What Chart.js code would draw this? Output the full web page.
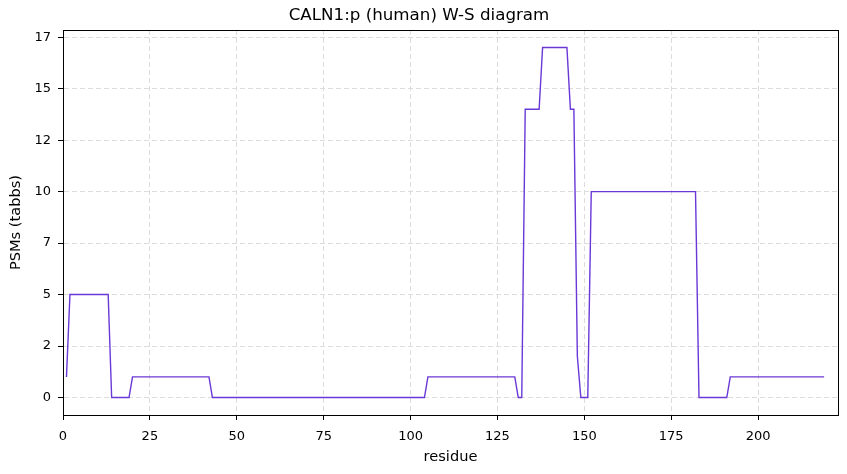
<!DOCTYPE html>
<html>
<head>
<meta charset="utf-8">
<script src="https://cdn.jsdelivr.net/npm/chart.js@4.4.3/dist/chart.umd.min.js"></script>
<style>
    html, body { margin: 0; padding: 0; background: #ffffff; }
    #wrap { width: 847px; height: 474px; }
</style>
</head>
<body>
<div id="wrap"><canvas id="chart" width="847" height="474"></canvas></div>
<script>
// residue positions and PSM counts
const residues = [];
for (let r = 1; r <= 219; r++) residues.push(r);

// runs of equal value: [firstResidue, lastResidue, psms]
const runStarts = [1, 2, 14, 20, 43, 105, 131, 133, 138, 146, 148, 149, 152, 183, 192];
const runEnds   = [1, 13, 19, 42, 104, 130, 132, 137, 145, 147, 148, 151, 182, 191, 219];
const runValues = [1, 5, 0, 1, 0, 1, 0, 14, 17, 14, 2, 0, 10, 0, 1];

const xTicks = [0, 25, 50, 75, 100, 125, 150, 175, 200];
const yTicks = [0, 2.5, 5, 7.5, 10, 12.5, 15, 17.5];
const yTickLabels = ['0', '2', '5', '7', '10', '12', '15', '17'];

const psms = residues.map(r => {
    const i = runStarts.findIndex((s, k) => r >= s && r <= runEnds[k]);
    return runValues[i];
});

const FONT = 'DejaVu Sans';

// matplotlib style frame around the plot area
const framePlugin = {
    id: 'frame',
    afterDraw(chart) {
        const {ctx, chartArea: a} = chart;
        ctx.save();
        ctx.strokeStyle = '#000';
        ctx.lineWidth = 1;
        ctx.setLineDash([]);
        ctx.strokeRect(Math.round(a.left) + 0.5, Math.round(a.top) + 0.5,
            Math.round(a.right - a.left), Math.round(a.bottom - a.top));
        ctx.restore();
    }
};

const gridOpts = {
    color: '#dcdcdc',
    tickColor: '#000',
    tickLength: 5,
    tickBorderDash: []
};

new Chart(document.getElementById('chart'), {
    type: 'line',
    data: {
        datasets: [{
            data: residues.map((r, i) => ({x: r, y: psms[i]})),
            borderColor: '#6a38d6',
            borderWidth: 1.4,
            pointRadius: 0,
            tension: 0,
            fill: false
        }]
    },
    options: {
        responsive: false,
        animation: false,
        layout: { padding: { left: 0, right: 9, top: 0, bottom: 0 } },
        plugins: {
            legend: { display: false },
            tooltip: { enabled: false },
            title: {
                display: true,
                text: 'CALN1:p (human) W-S diagram',
                color: '#000',
                font: { family: FONT, size: 16.7, weight: 'normal' },
                padding: { top: 6, bottom: 4 }
            }
        },
        scales: {
            x: {
                type: 'linear',
                min: 0,
                max: 223,
                afterBuildTicks: s => { s.ticks = xTicks.map(v => ({value: v})); },
                afterFit: s => { s.height = 59; },
                ticks: {
                    color: '#000',
                    font: { family: FONT, size: 13 },
                    padding: 9,
                    maxRotation: 0
                },
                grid: gridOpts,
                border: { color: '#000', width: 1, dash: [5, 3] },
                title: {
                    display: true,
                    text: 'residue',
                    color: '#000',
                    font: { family: FONT, size: 14.6 },
                    padding: { top: 0, bottom: 8 }
                }
            },
            y: {
                type: 'linear',
                min: -0.85,
                max: 17.85,
                afterBuildTicks: s => { s.ticks = yTicks.map(v => ({value: v})); },
                afterFit: s => { s.width = 63; },
                ticks: {
                    color: '#000',
                    font: { family: FONT, size: 13 },
                    padding: 7,
                    callback: (v, i) => yTickLabels[i]
                },
                grid: gridOpts,
                border: { color: '#000', width: 1, dash: [5, 3] },
                title: {
                    display: true,
                    text: 'PSMs (tabbs)',
                    color: '#000',
                    font: { family: FONT, size: 14.6 },
                    padding: { top: 7, bottom: 0 }
                }
            }
        }
    },
    plugins: [framePlugin]
});
</script>
</body>
</html>
